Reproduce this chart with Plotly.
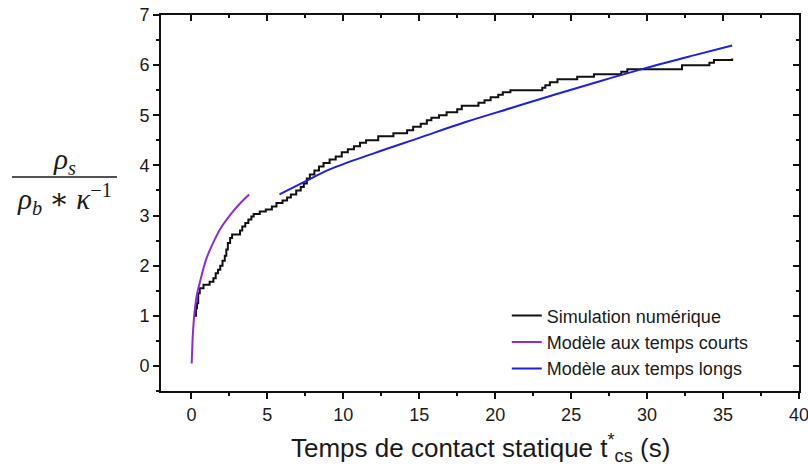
import plotly.graph_objects as go

# Simulation numérique (step curve)
sim_t = [0.2, 0.3, 0.37, 0.45, 0.55, 0.8, 1.2, 1.45, 1.6, 1.75, 1.9, 2.05, 2.2, 2.3, 2.4, 2.55, 2.68,
         3.2, 3.35, 3.55, 3.75, 3.95, 4.1, 4.5, 4.9, 5.3, 5.6, 6.0, 6.3, 6.55, 6.9, 7.2, 7.4, 7.6, 7.8,
         8.1, 8.4, 8.7, 9.1, 9.5, 9.9, 10.3, 10.7, 11.1, 11.5, 12.3, 13.3, 14.2, 14.6, 15.1, 15.5, 15.8,
         16.3, 16.8, 17.5, 17.8, 18.9, 19.3, 19.7, 20.2, 20.5, 21.0, 23.1, 23.3, 23.6, 24.1, 25.4, 26.5,
         28.3, 28.7, 32.3, 34.1, 34.4, 35.6]
sim_y = [1.0, 1.15, 1.25, 1.45, 1.55, 1.62, 1.68, 1.75, 1.85, 1.92, 2.0, 2.1, 2.2, 2.32, 2.45, 2.55, 2.62,
         2.7, 2.78, 2.85, 2.92, 2.98, 3.03, 3.08, 3.12, 3.18, 3.25, 3.3, 3.36, 3.42, 3.5, 3.57, 3.64, 3.74, 3.82,
         3.9, 3.98, 4.05, 4.12, 4.18, 4.26, 4.32, 4.38, 4.45, 4.5, 4.58, 4.64, 4.7, 4.77, 4.83, 4.9, 4.95,
         5.0, 5.06, 5.12, 5.19, 5.25, 5.3, 5.36, 5.41, 5.46, 5.5, 5.55, 5.6, 5.66, 5.72, 5.77, 5.82,
         5.87, 5.92, 6.0, 6.05, 6.1, 6.13]

# Modèle aux temps courts
court_t = [0.02, 0.05, 0.1, 0.2, 0.35, 0.6, 1.0, 1.5, 2.0, 2.6, 3.2, 3.8]
court_y = [0.05, 0.3, 0.65, 1.05, 1.4, 1.72, 2.15, 2.5, 2.78, 3.03, 3.24, 3.42]

# Modèle aux temps longs
long_t = [5.8, 7.5, 9.1, 12, 15, 18, 21, 24, 27, 30, 33, 35.6]
long_y = [3.42, 3.68, 3.92, 4.24, 4.55, 4.86, 5.14, 5.42, 5.69, 5.95, 6.19, 6.39]

x_ticks = [0, 5, 10, 15, 20, 25, 30, 35, 40]
y_ticks = [0, 1, 2, 3, 4, 5, 6, 7]

FONT = "Liberation Sans, Arial, sans-serif"
SERIF = "Liberation Serif, DejaVu Serif, serif"
TXT = "#1a1a1a"
AX = "#111111"

fig = go.Figure()
fig.add_trace(go.Scatter(x=sim_t, y=sim_y, mode="lines", line_shape="hv",
                         line=dict(color="#111111", width=2), name="Simulation numérique"))
fig.add_trace(go.Scatter(x=court_t, y=court_y, mode="lines", line_shape="spline",
                         line=dict(color="#8a2be2", width=2), name="Modèle aux temps courts"))
fig.add_trace(go.Scatter(x=long_t, y=long_y, mode="lines", line_shape="spline",
                         line=dict(color="#1f1fe0", width=2), name="Modèle aux temps longs"))
fig.add_trace(go.Scatter(x=[], y=[], xaxis="x2", yaxis="y2", showlegend=False))

axis_common = dict(showgrid=False, zeroline=False, linecolor=AX, linewidth=2,
                   tickcolor=AX, tickwidth=2, automargin=False, ticklabeloverflow="allow",
                   tickfont=dict(family=FONT, size=18, color=TXT))

fig.update_layout(
    width=808, height=473,
    margin=dict(l=161, r=9, t=15, b=82),
    paper_bgcolor="white", plot_bgcolor="white",
    showlegend=True,
    legend=dict(x=0.542, y=0.249, xanchor="left", yanchor="top",
                bgcolor="rgba(255,255,255,0)", tracegroupgap=0,
                font=dict(family=FONT, size=18, color=TXT)),
    xaxis=dict(range=[-2, 40], tickvals=x_ticks, ticks="outside", ticklen=6,
               showline=True, mirror=True,
               minor=dict(ticks="outside", dtick=2.5, tick0=0, ticklen=3, tickwidth=2, tickcolor=AX),
               **axis_common),
    yaxis=dict(range=[-0.5, 7], tickvals=y_ticks, ticks="outside", ticklen=6,
               showline=True, mirror=True,
               minor=dict(ticks="outside", dtick=0.5, tick0=0, ticklen=3, tickwidth=2, tickcolor=AX),
               **axis_common),
    xaxis2=dict(range=[-2, 40], overlaying="x", side="top", anchor="y2", tickvals=x_ticks,
                ticks="inside", ticklen=6, showticklabels=False, showline=False, automargin=False,
                showgrid=False, zeroline=False, tickcolor=AX, tickwidth=2,
                minor=dict(ticks="inside", dtick=2.5, tick0=0, ticklen=3, tickwidth=2, tickcolor=AX)),
    yaxis2=dict(range=[-0.5, 7], overlaying="y", side="right", anchor="x2", tickvals=y_ticks,
                ticks="inside", ticklen=6, showticklabels=False, showline=False, automargin=False,
                showgrid=False, zeroline=False, tickcolor=AX, tickwidth=2,
                minor=dict(ticks="inside", dtick=0.5, tick0=0, ticklen=3, tickwidth=2, tickcolor=AX)),
)

# x-axis title
fig.add_annotation(text="Temps de contact statique t<sup>*</sup><sub>cs</sub> (s)",
                   xref="paper", yref="paper", x=0.5, y=-0.151, xanchor="center", yanchor="middle",
                   showarrow=False, font=dict(family=FONT, size=26, color=TXT))

# y-axis title as a fraction
fig.add_annotation(text="<i>ρ</i><sub><i>s</i></sub>", xref="paper", yref="paper",
                   x=-0.1505, y=0.612, xanchor="center", yanchor="middle", showarrow=False,
                   font=dict(family=SERIF, size=29, color=TXT))
fig.add_annotation(text="<i>ρ</i><sub><i>b</i></sub> ∗ <i>κ</i><sup>−1</sup>", xref="paper", yref="paper",
                   x=-0.152, y=0.51, xanchor="center", yanchor="middle", showarrow=False,
                   font=dict(family=SERIF, size=29, color=TXT))
fig.add_shape(type="line", xref="paper", yref="paper", x0=-0.2335, x1=-0.069, y0=0.569, y1=0.569,
              line=dict(color=TXT, width=1.5))

fig.write_html("out.html", config={"displayModeBar": False},
               post_script="document.body.style.margin='0';")
